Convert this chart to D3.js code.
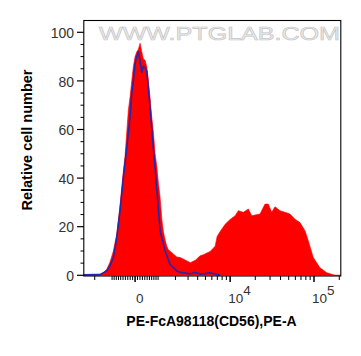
<!DOCTYPE html>
<html><head><meta charset="utf-8">
<script src="https://cdn.jsdelivr.net/npm/d3@7"></script>
<style>body{margin:0;background:#fff}svg{display:block}</style>
</head><body><svg id="c" width="361" height="356"></svg>
<script>
// PE fluorescence intensity (biexponential axis) and % of max
const redX = [-2830, -1915, -1652, -1477, -1271, -1101, -937, -778, -629, -485, -413, -341, -275, -204, -135, -69, 0, 69, 135, 204, 275, 341, 413, 485, 554, 629, 705, 778, 857, 937, 1015, 1101, 1190, 1271, 1368, 1461, 1551, 1652, 1874, 2101, 2347, 2909, 3215, 3737, 4290, 4717, 5716, 6584, 6962, 7572, 8702, 10000, 11470, 12550, 14400, 16520, 18130, 19850, 22760, 26100, 28580, 31360, 34340, 39370, 45160, 51800, 59400, 68130, 78150, 85530, 98100, 117900, 141700, 177800, 209600];
const redY = [0, 0, 0.4, 1, 2.5, 5.5, 10, 17, 29, 43, 49, 59, 68, 73.5, 80, 86, 90, 92, 93, 95.5, 92, 89, 88.5, 85.8, 80, 73, 65, 59, 50, 45, 38, 32, 23, 18, 14.5, 12, 10.5, 10, 8.7, 7.5, 7.3, 5.9, 5.2, 6.2, 8, 8.5, 9.8, 12, 16, 18, 21, 23, 24.5, 26.6, 25.9, 27.3, 24.5, 24.8, 25.2, 29.3, 29.3, 25.9, 28.2, 26.6, 25.9, 25.2, 23.1, 21.7, 18.3, 14.2, 7.3, 3.1, 1.1, 0, 0];
const blueX = [-2830, -1915, -1652, -1477, -1271, -1101, -937, -778, -629, -485, -341, -204, -135, -69, 0, 69, 135, 204, 275, 341, 413, 485, 554, 629, 705, 778, 857, 960, 1101, 1271, 1368, 1652, 2101, 2347, 2909, 3215, 3737, 4290, 5716, 6584, 7572];
const blueY = [0.2, 0.3, 0.3, 1, 1.8, 4, 7.3, 15.5, 26.6, 40.3, 52.7, 65, 75, 80, 87, 90, 92, 88, 83.5, 86, 85.5, 84, 77, 69, 60, 52, 44, 33, 18.3, 13, 10, 4.5, 1.8, 1.2, 0.8, 0.6, 1.2, 0.5, 1, 0.5, 0];
const yTicks = [0, 20, 40, 60, 80, 100];
const yMinor = [5, 10, 15, 25, 30, 35, 45, 50, 55, 65, 70, 75, 85, 90, 95];
const xMajor = [0, 10000, 100000];
const xLabels = [{v: 0, base: "0", exp: ""}, {v: 10000, base: "10", exp: "4"}, {v: 100000, base: "10", exp: "5"}];
const xMinor = [-3000, -2000, -1000, -900, -800, -700, -600, -500, -400, -300, -200, -100, 100, 200, 300, 400, 500, 600, 700, 800, 900, 1000, 2000, 3000, 4000, 5000, 6000, 7000, 8000, 9000, 20000, 30000, 40000, 50000, 60000, 70000, 80000, 90000, 200000];
const xTitle = "PE-FcA98118(CD56),PE-A";
const yTitle = "Relative cell number";
const watermark = "WWW.PTGLAB.COM";

const W = 1487;
const biex = v => Math.asinh(v / W) / Math.LN10;
const L = 84, R = 341, T = 20, B = 276;
const xs = d3.scaleLinear().domain([biex(-2830), biex(209600)]).range([L, R]);
const x = v => xs(biex(v));
const y = d3.scaleLinear().domain([0, 100]).range([275.3, 32.3]);

const svg = d3.select("#c");
const font = "'Liberation Sans', Arial, sans-serif";

// watermark
svg.append("text").attr("x", 99).attr("y", 40).attr("font-family", font)
  .attr("font-size", 18).attr("textLength", 241).attr("lengthAdjust", "spacingAndGlyphs")
  .attr("fill", "#ececec").attr("stroke", "#c4c4c4").attr("stroke-width", 0.6).text(watermark);

svg.append("defs").append("clipPath").attr("id", "clip").append("rect")
  .attr("x", L).attr("y", T).attr("width", R - L).attr("height", B - T);
const g = svg.append("g").attr("clip-path", "url(#clip)");

const redData = redX.map((v, i) => [v, redY[i]]);
const blueData = blueX.map((v, i) => [v, blueY[i]]);
g.append("path").datum(redData)
  .attr("d", d3.area().x(d => x(d[0])).y0(y(0)).y1(d => y(d[1])))
  .attr("fill", "#ff0000").attr("stroke", "#ff0000").attr("stroke-width", 0.6);
g.append("path").datum(blueData)
  .attr("d", d3.line().x(d => x(d[0])).y(d => y(d[1])))
  .attr("fill", "none").attr("stroke", "#2626a6").attr("stroke-width", 1.6).attr("stroke-linejoin", "round");

// frame
svg.append("rect").attr("x", L - 0.2).attr("y", T + 0.5).attr("width", R - L).attr("height", B - T - 0.5)
  .attr("fill", "none").attr("stroke", "#000").attr("stroke-width", 1.1);

// y ticks
svg.selectAll(".ymaj").data(yTicks).enter().append("line")
  .attr("x1", L - 7).attr("x2", L).attr("y1", d => y(d)).attr("y2", d => y(d))
  .attr("stroke", "#000").attr("stroke-width", 1.2);
svg.selectAll(".ymin").data(yMinor).enter().append("line")
  .attr("x1", L - 3.5).attr("x2", L).attr("y1", d => y(d)).attr("y2", d => y(d))
  .attr("stroke", "#000").attr("stroke-width", 1);
svg.selectAll(".ylab").data(yTicks).enter().append("text")
  .attr("x", 74).attr("y", d => y(d) + 5.6).attr("text-anchor", "end")
  .attr("font-family", font).attr("font-size", 14).attr("fill", "#333").text(d => d);

// x ticks
const inRange = v => x(v) >= L && x(v) <= R;
svg.selectAll(".xmin").data(xMinor.filter(inRange)).enter().append("line")
  .attr("x1", d => x(d)).attr("x2", d => x(d)).attr("y1", B).attr("y2", B + 4)
  .attr("stroke", "#000").attr("stroke-width", 1);
svg.selectAll(".xmaj").data(xMajor).enter().append("line")
  .attr("x1", d => x(d)).attr("x2", d => x(d)).attr("y1", B).attr("y2", B + 6)
  .attr("stroke", "#000").attr("stroke-width", 1.5);
const xl = svg.selectAll(".xlab").data(xLabels).enter().append("text")
  .attr("x", d => x(d.v) + (d.exp ? -2 : 1)).attr("y", 302.5)
  .attr("font-family", font).attr("font-size", 13.5).attr("fill", "#333");
xl.append("tspan").text(d => d.base);
xl.append("tspan").attr("dy", -8).text(d => d.exp);

// titles
svg.append("text").attr("x", (L + R) / 2 - 1).attr("y", 326).attr("text-anchor", "middle")
  .attr("font-family", font).attr("font-weight", "bold").attr("font-size", 14).attr("fill", "#000").text(xTitle);
svg.append("text").attr("transform", "translate(31.5,140) rotate(-90)").attr("text-anchor", "middle")
  .attr("font-family", font).attr("font-weight", "bold").attr("font-size", 14.5).attr("fill", "#000").text(yTitle);
</script></body></html>
